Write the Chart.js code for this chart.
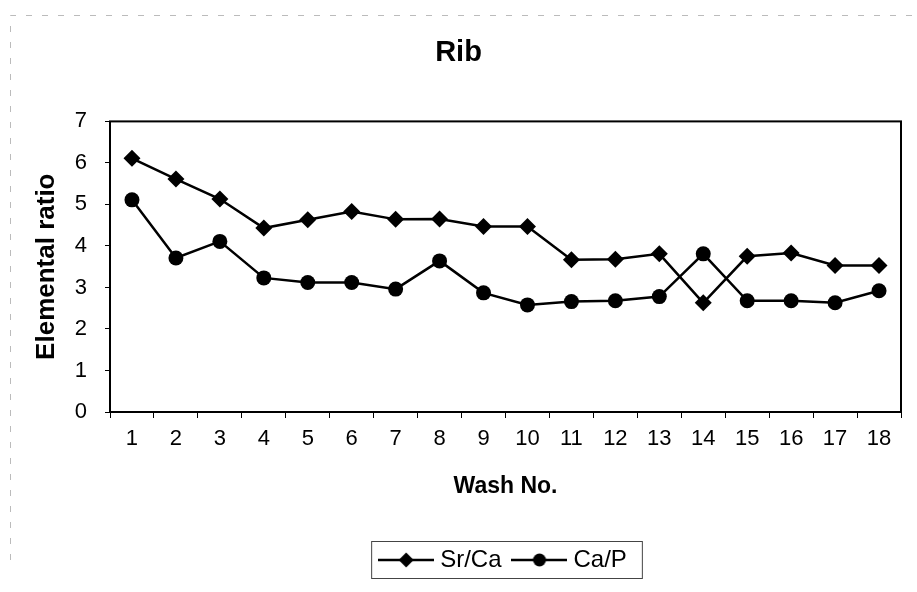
<!DOCTYPE html>
<html lang="en">
  <head>
    <meta charset="UTF-8" />
    <title>Rib</title>
    <script src="https://cdn.jsdelivr.net/npm/chart.js"></script>
    <style>
      body { margin: 0; background: #fff; }
    </style>
  </head>
  <body>
    <canvas id="myChart" width="917" height="592"></canvas>
    <script>
      const washNo = ["1", "2", "3", "4", "5", "6", "7", "8", "9", "10", "11", "12", "13", "14", "15", "16", "17", "18"];
      const srCa = [6.11, 5.61, 5.13, 4.43, 4.63, 4.83, 4.64, 4.65, 4.47, 4.47, 3.67, 3.68, 3.81, 2.63, 3.75, 3.83, 3.53, 3.53];
      const caP = [5.11, 3.71, 4.11, 3.23, 3.12, 3.12, 2.96, 3.64, 2.87, 2.58, 2.66, 2.68, 2.78, 3.81, 2.68, 2.68, 2.63, 2.92];
      const yMin = 0;
      const yMax = 7;

      const font = "'Liberation Sans', Arial, sans-serif";

      // little line + marker picture for the legend
      function legendIcon(shape) {
        const c = document.createElement("canvas");
        c.width = 56;
        c.height = 20;
        const g = c.getContext("2d");
        g.strokeStyle = "#000";
        g.fillStyle = "#000";
        g.lineWidth = 2.5;
        g.beginPath();
        g.moveTo(0, 10);
        g.lineTo(56, 10);
        g.stroke();
        g.beginPath();
        if (shape === "diamond") {
          g.moveTo(28, 2.5);
          g.lineTo(35.5, 10);
          g.lineTo(28, 17.5);
          g.lineTo(20.5, 10);
          g.closePath();
        } else {
          g.arc(28, 10, 6.5, 0, Math.PI * 2);
        }
        g.fill();
        return c;
      }
      const icons = [legendIcon("diamond"), legendIcon("circle")];

      // frame round the plot and the legend
      const frames = {
        id: "frames",
        afterDraw(chart) {
          const c = chart.ctx;
          const a = chart.chartArea;
          c.save();
          c.strokeStyle = "#000";
          c.lineWidth = 2;
          c.strokeRect(a.left, a.top, a.right - a.left, a.bottom - a.top);

          const hb = chart.legend.legendHitBoxes;
          if (hb && hb.length) {
            const last = hb[hb.length - 1];
            const mid = hb[0].top + hb[0].height / 2;
            c.lineWidth = 1;
            c.strokeStyle = "#444";
            c.strokeRect(hb[0].left - 12.5, mid - 18.5, last.left + last.width - hb[0].left + 28, 37);
          }

          c.strokeStyle = "#bbb";
          c.setLineDash([6, 10]);
          c.beginPath();
          c.moveTo(10.5, 560);
          c.lineTo(10.5, 15.5);
          c.lineTo(915, 15.5);
          c.stroke();
          c.restore();
        },
      };

      const ctx = document.getElementById("myChart").getContext("2d");
      const myChart = new Chart(ctx, {
        type: "line",
        data: {
          labels: washNo,
          datasets: [
            {
              label: "Sr/Ca",
              data: srCa,
              borderColor: "#000",
              backgroundColor: "#000",
              borderWidth: 2.5,
              pointStyle: "rectRot",
              pointRadius: 8.5,
              pointBorderWidth: 0,
              tension: 0,
            },
            {
              label: "Ca/P",
              data: caP,
              borderColor: "#000",
              backgroundColor: "#000",
              borderWidth: 2.5,
              pointStyle: "circle",
              pointRadius: 7.5,
              pointBorderWidth: 0,
              tension: 0,
            },
          ],
        },
        options: {
          responsive: false,
          animation: false,
          layout: { padding: { left: 0, right: 0, top: 0, bottom: 10 } },
          plugins: {
            title: {
              display: true,
              text: "Rib",
              color: "#000",
              font: { family: font, size: 29, weight: "bold" },
              padding: { top: 36, bottom: 50.6 },
            },
            legend: {
              position: "bottom",
              fullSize: false,
              labels: {
                color: "#000",
                font: { family: font, size: 24 },
                usePointStyle: true,
                pointStyleWidth: 44,
                padding: 16,
                generateLabels: (chart) =>
                  chart.data.datasets.map((ds, i) => ({
                    text: ds.label,
                    pointStyle: icons[i],
                    fillStyle: "#000",
                    strokeStyle: "#000",
                    lineWidth: 0,
                    hidden: false,
                    datasetIndex: i,
                  })),
              },
            },
            tooltip: { enabled: false },
          },
          scales: {
            x: {
              offset: true,
              grid: {
                offset: true,
                drawOnChartArea: false,
                tickLength: 6,
                color: "#000",
              },
              border: { display: false },
              ticks: {
                color: "#000",
                font: { family: font, size: 22 },
                padding: 8,
                autoSkip: false,
                maxRotation: 0,
              },
              title: {
                display: true,
                text: "Wash No.",
                color: "#000",
                font: { family: font, size: 23, weight: "bold" },
                padding: { top: 0, bottom: 32 },
              },
              afterFit: (s) => {
                s.height = 120;
              },
            },
            y: {
              min: yMin,
              max: yMax,
              grid: {
                drawOnChartArea: false,
                tickLength: 5,
                color: "#000",
              },
              border: { display: false },
              ticks: {
                stepSize: 1,
                color: "#000",
                font: { family: font, size: 22 },
                padding: 18,
              },
              title: {
                display: true,
                text: "Elemental ratio",
                color: "#000",
                font: { family: font, size: 26, weight: "bold" },
                padding: { top: 31, bottom: 0 },
              },
              afterFit: (s) => {
                s.width = 110;
              },
            },
            y2: {
              position: "right",
              grid: { display: false },
              border: { display: false },
              ticks: { display: false },
              afterFit: (s) => {
                s.width = 16;
              },
            },
          },
        },
        plugins: [frames],
      });
    </script>
  </body>
</html>
